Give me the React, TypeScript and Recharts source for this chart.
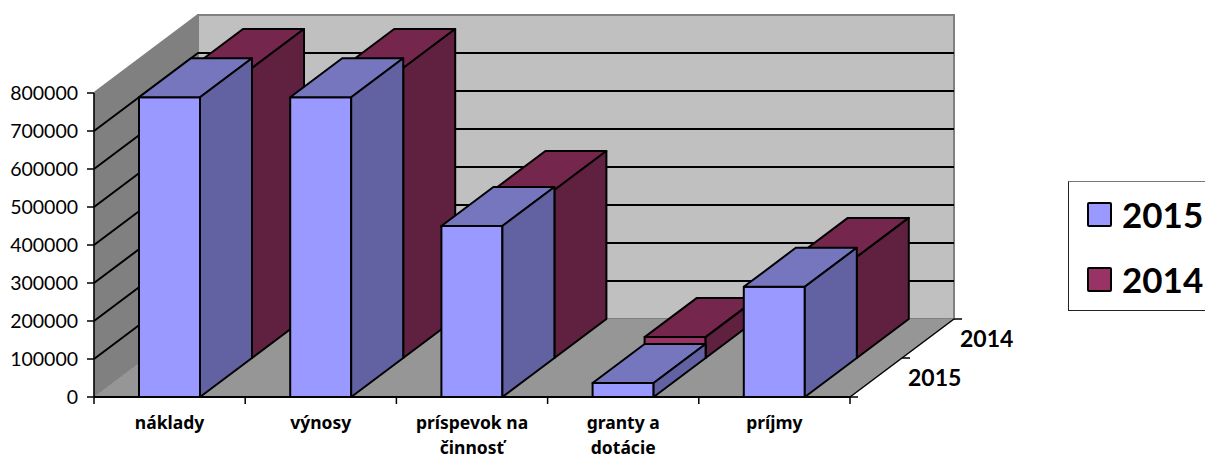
import { BarChart, Bar, XAxis, YAxis, Legend, CartesianGrid } from 'recharts';

const categories = ['náklady', 'výnosy', 'príspevok na\nčinnosť', 'granty a\ndotácie', 'príjmy'];
const values2015 = [789000, 789000, 450000, 37000, 290000];
const values2014 = [763000, 763000, 442000, 55000, 266000];
const yTicks = [0, 100000, 200000, 300000, 400000, 500000, 600000, 700000, 800000];

const chartData = categories.map((name, i) => ({
  name,
  y2015: values2015[i],
  y2014: values2014[i],
}));

const FONT = 'Lato, Carlito, sans-serif';
const LEFT = 94;
const RIGHT = 850;
const TOP = 93;
const BOTTOM = 397;
// one row of bars goes this far back, the whole floor is two rows
const DX = 52;
const DY = 39;
const WALL_X = DX * 2;
const WALL_Y = DY * 2;

const style2015 = { front: '#9999ff', top: '#7676bf', side: '#6262a2', dx: 0, dy: 0 };
const style2014 = { front: '#993366', top: '#75264d', side: '#60203f', dx: DX, dy: DY };

function boxShape(s: typeof style2015) {
  return (props: any) => {
    const x = props.x + s.dx;
    const y = props.y - s.dy;
    const w = props.width;
    const h = props.height;
    const line = { stroke: '#000', strokeWidth: 2, strokeLinejoin: 'round' as const };
    return (
      <g>
        <rect x={x} y={y} width={w} height={h} fill={s.front} {...line} />
        <polygon
          points={`${x},${y} ${x + DX},${y - DY} ${x + w + DX},${y - DY} ${x + w},${y}`}
          fill={s.top}
          {...line}
        />
        <polygon
          points={`${x + w},${y} ${x + w + DX},${y - DY} ${x + w + DX},${y + h - DY} ${x + w},${y + h}`}
          fill={s.side}
          {...line}
        />
      </g>
    );
  };
}

function Walls() {
  const xr = RIGHT + WALL_X;
  const xl = LEFT + WALL_X;
  const yb = BOTTOM - WALL_Y;
  const yt = TOP - WALL_Y;
  return (
    <g>
      <polygon points={`${xl},${yt} ${xr},${yt} ${xr},${yb} ${xl},${yb}`} fill="#c0c0c0" stroke="#808080" strokeWidth={2} />
      <polygon points={`${LEFT},${TOP} ${xl},${yt} ${xl},${yb} ${LEFT},${BOTTOM}`} fill="#808080" stroke="#808080" />
      <polygon points={`${LEFT},${BOTTOM} ${xl},${yb} ${xr},${yb} ${RIGHT},${BOTTOM}`} fill="#969696" />
    </g>
  );
}

function FloorAxis() {
  const step = (RIGHT - LEFT) / categories.length;
  const xr = RIGHT + WALL_X;
  const yb = BOTTOM - WALL_Y;
  const labelStyle = { fontFamily: FONT, fontSize: 23, fontWeight: 700, fill: '#000' };
  return (
    <g>
      {categories.concat('').map((_, i) => (
        <line key={i} x1={LEFT + i * step} y1={BOTTOM} x2={LEFT + i * step} y2={BOTTOM + 7} stroke="#000" strokeWidth={1.5} />
      ))}
      <line x1={RIGHT} y1={BOTTOM} x2={xr} y2={yb} stroke="#000" strokeWidth={1.5} />
      <line x1={RIGHT} y1={BOTTOM} x2={RIGHT + 8} y2={BOTTOM} stroke="#000" strokeWidth={1.5} />
      <line x1={RIGHT + DX} y1={BOTTOM - DY} x2={RIGHT + DX + 8} y2={BOTTOM - DY} stroke="#000" strokeWidth={1.5} />
      <line x1={xr} y1={yb} x2={xr + 8} y2={yb} stroke="#000" strokeWidth={1.5} />
      <text x={908} y={386} {...labelStyle}>2015</text>
      <text x={960} y={347} {...labelStyle}>2014</text>
    </g>
  );
}

// the grid sits in the lowest layer, so the walls go in with its first line
function gridLine(props: any) {
  const y = props.y1;
  const isBottom = y >= BOTTOM - 1;
  const isTop = y <= TOP + 1;
  return (
    <g key={props.key ?? y}>
      {props.index === 0 && <Walls />}
      {!isBottom && (
        <polyline
          points={`${LEFT},${y} ${LEFT + WALL_X},${y - WALL_Y} ${RIGHT + WALL_X},${y - WALL_Y}`}
          fill="none"
          stroke={isTop ? '#808080' : '#000'}
          strokeWidth={2}
        />
      )}
    </g>
  );
}

function CategoryTick(props: any) {
  const lines = String(props.payload.value).split('\n');
  return (
    <text x={props.x} textAnchor="middle" fontFamily="'Noto Sans', sans-serif" fontSize={17.5} fontWeight={700} fill="#000">
      {lines.map((t, i) => (
        <tspan key={t} x={props.x} y={BOTTOM + 32 + i * 25}>
          {t}
        </tspan>
      ))}
    </text>
  );
}

const legendItems = [
  { label: '2015', color: style2015.front },
  { label: '2014', color: style2014.front },
];

function LegendBox() {
  return (
    <div
      style={{
        boxSizing: 'border-box',
        width: 137,
        height: 130,
        borderLeft: '1.5px solid #222',
        borderBottom: '1.5px solid #222',
        borderTop: '1.5px solid #777',
        background: '#fff',
        paddingLeft: 18,
      }}
    >
      {legendItems.map((it) => (
        <div key={it.label} style={{ display: 'flex', alignItems: 'center', height: 65 }}>
          <div
            style={{
              boxSizing: 'border-box',
              width: 25,
              height: 25,
              background: it.color,
              border: '2.5px solid #000',
              borderRadius: 2,
              marginRight: 10,
            }}
          />
          <span style={{ fontFamily: FONT, fontSize: 35, fontWeight: 700, color: '#000', lineHeight: '65px' }}>
            {it.label}
          </span>
        </div>
      ))}
    </div>
  );
}

export default function App() {
  return (
    <div style={{ position: 'absolute', left: 0, top: 0, width: 1205, height: 459, overflow: 'hidden', background: '#fff' }}>
      <BarChart
        width={1205}
        height={459}
        data={chartData}
        margin={{ top: TOP, left: 0, right: 1205 - RIGHT, bottom: 0 }}
        barSize={61}
        barGap={-61}
        barCategoryGap={0}
      >
        <CartesianGrid vertical={false} horizontal={gridLine} />
        <XAxis
          dataKey="name"
          height={62}
          interval={0}
          tickLine={false}
          axisLine={{ stroke: '#000', strokeWidth: 2 }}
          tick={CategoryTick}
        />
        <YAxis
          width={94}
          domain={[0, 800000]}
          ticks={yTicks}
          interval={0}
          tickSize={7}
          tickMargin={9}
          axisLine={{ stroke: '#000', strokeWidth: 1.5 }}
          tickLine={{ stroke: '#000', strokeWidth: 1.5 }}
          tick={{ fontFamily: FONT, fontSize: 19.5, fill: '#000' }}
        />
        <FloorAxis />
        <Legend
          layout="vertical"
          align="center"
          verticalAlign="middle"
          content={<LegendBox />}
          wrapperStyle={{ left: 1068, top: 181, width: 137 }}
        />
        <Bar dataKey="y2014" name="2014" isAnimationActive={false} shape={boxShape(style2014)} />
        <Bar dataKey="y2015" name="2015" isAnimationActive={false} shape={boxShape(style2015)} />
      </BarChart>
    </div>
  );
}
